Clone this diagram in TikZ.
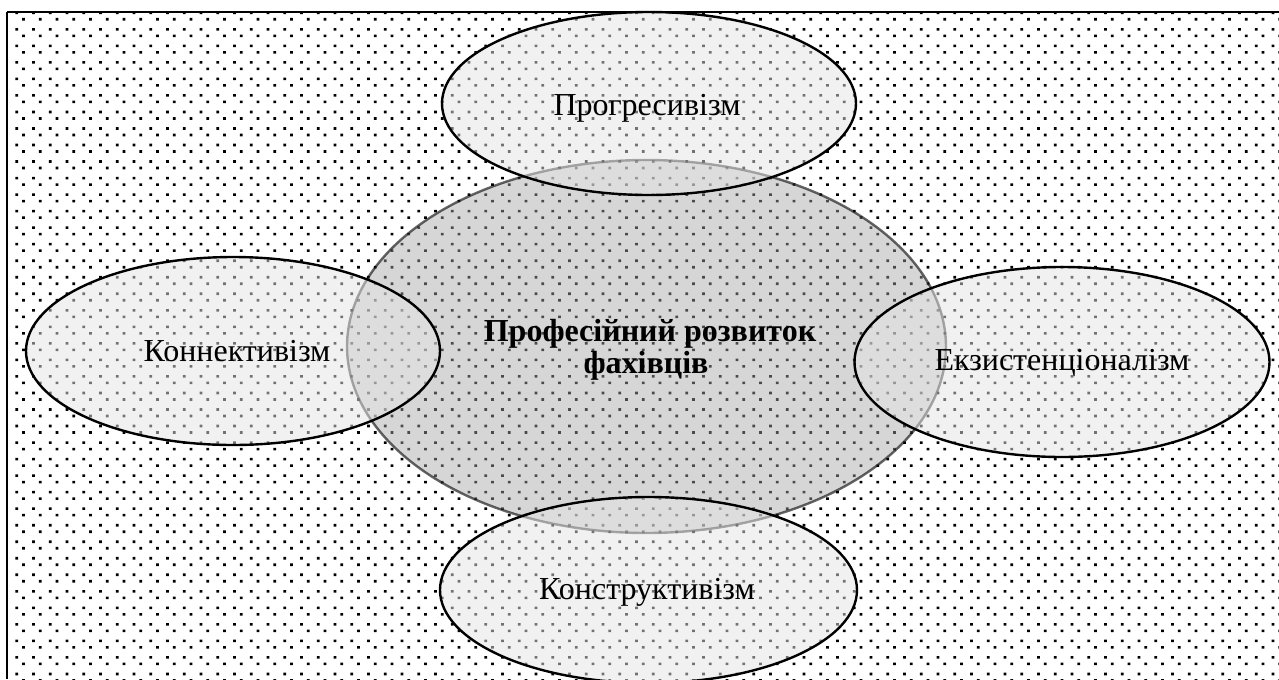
\documentclass[tikz,border=0pt]{standalone}
\usepackage{fontspec}
\setmainfont{Liberation Serif}
\begin{document}
\begin{tikzpicture}[x=0.75pt,y=-0.75pt,
  side/.style={draw=black, line width=1.8pt, fill=black!10, fill opacity=0.5},
  core/.style={draw=black, draw opacity=0.6, line width=1.8pt, fill=black!35, fill opacity=0.45},
  lbl/.style={font=\fontsize{24}{22.5}\selectfont, inner sep=0pt, anchor=base, text opacity=1},
  blbl/.style={lbl, font=\fontsize{24}{22.5}\selectfont\bfseries}]
\useasboundingbox (0,0) rectangle (1279,679);
\clip (0,0) rectangle (1279,679);
\fill[white] (0,0) rectangle (1279,679);
% dotted background
\foreach \n in {-1,...,39}{
  \fill[black] foreach \k in {1,...,76}{
    ({16.75*\k-1.3},{29.3+16.53*\n-1.3}) rectangle ++(2.6,2.6)
    ({16.75*\k+5.4},{29.3+16.53*\n+5.2}) rectangle ++(2.6,2.6)};
}
% frame
\draw[line width=1.2pt] (7,12) -- (1279,12);
\draw[line width=1.8pt] (7,679) -- (7,11.5);
% central ellipse
\path[core] (646.5,346.5) ellipse [x radius=299.5, y radius=186.5];
% surrounding ellipses
\path[side] (649,103.5) ellipse [x radius=207, y radius=91.5];
\path[side] (233,351) ellipse [x radius=207, y radius=94];
\path[side] (1062,362) ellipse [x radius=207.5, y radius=95];
\path[side] (648.5,590) ellipse [x radius=208.5, y radius=93];
% labels
\node[lbl] (prog) at (647,115) {Прогресивізм};
\node[lbl] (konn) at (237,361) {Коннективізм};
\node[lbl] (ekz) at (1062,370) {Екзистенціоналізм};
\node[lbl] (kons) at (647,599) {Конструктивізм};
\node[blbl] (core1) at (650,341.7) {Професійний розвиток};
\node[blbl] (core2) at (646,373) {фахівців};
\end{tikzpicture}
\end{document}
